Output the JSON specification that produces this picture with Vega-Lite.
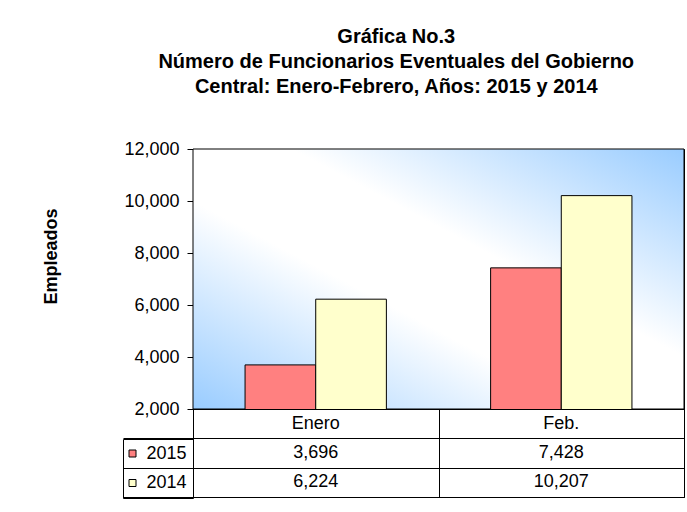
{
  "$schema": "https://vega.github.io/schema/vega-lite/v6.json",
  "datasets": {
    "emp": [
      {"month": "Enero", "year": "2015", "value": 3696},
      {"month": "Enero", "year": "2014", "value": 6224},
      {"month": "Feb.", "year": "2015", "value": 7428},
      {"month": "Feb.", "year": "2014", "value": 10207}
    ]
  },
  "padding": {"left": 41, "top": 26, "right": 4, "bottom": 10},
  "background": "white",
  "title": {
    "text": ["Gráfica No.3", "Número de Funcionarios Eventuales del Gobierno", "Central: Enero-Febrero, Años: 2015 y 2014"],
    "fontSize": 20,
    "fontWeight": "bold",
    "lineHeight": 25,
    "anchor": "middle",
    "dx": 33,
    "offset": 43,
    "color": "black"
  },
  "config": {
    "font": "Liberation Sans"
  },
  "spacing": 0,
  "bounds": "flush",
  "resolve": {
    "scale": {"x": "independent", "y": "independent"},
    "legend": {"fill": "independent"}
  },
  "vconcat": [
    {
      "width": 491,
      "height": 260,
      "view": {"stroke": "black", "strokeWidth": 1},
      "layer": [
        {
          "data": {"values": [{}]},
          "mark": {
            "type": "rect",
            "stroke": "black",
            "strokeWidth": 1,
            "color": {
              "gradient": "linear",
              "x1": 0, "y1": 1, "x2": 1, "y2": 0,
              "stops": [
                {"offset": 0, "color": "#99CCFF"},
                {"offset": 0.4, "color": "#FFFFFF"},
                {"offset": 0.6, "color": "#FFFFFF"},
                {"offset": 1, "color": "#99CCFF"}
              ]
            }
          },
          "encoding": {}
        },
        {
          "data": {"name": "emp"},
          "mark": {"type": "bar", "stroke": "black", "strokeWidth": 1, "clip": true},
          "encoding": {
            "x": {
              "field": "month", "type": "nominal", "sort": ["Enero", "Feb."],
              "scale": {"paddingInner": 0.4245, "paddingOuter": 0.212},
              "axis": null
            },
            "xOffset": {"field": "year", "type": "nominal", "sort": ["2015", "2014"], "scale": {"paddingInner": 0, "paddingOuter": 0}},
            "y": {
              "field": "value", "type": "quantitative",
              "scale": {"domain": [2000, 12000], "zero": false, "nice": false},
              "axis": {
                "values": [2000, 4000, 6000, 8000, 10000, 12000],
                "format": ",.0f",
                "title": "Empleados",
                "grid": false,
                "labelFontSize": 18,
                "labelColor": "black",
                "labelPadding": 8,
                "tickColor": "black",
                "tickSize": 6,
                "domainColor": "black",
                "titleFontSize": 18,
                "titleFontWeight": "bold",
                "titleColor": "black",
                "titleX": -142,
                "titleY": 107,
                "titleAngle": -90,
                "titleAlign": "center",
                "titleBaseline": "middle"
              }
            },
            "fill": {
              "field": "year", "type": "nominal",
              "scale": {"domain": ["2015", "2014"], "range": ["#FF8080", "#FFFFCC"]},
              "legend": {
                "title": null,
                "orient": "none",
                "legendX": -70,
                "legendY": 290,
                "direction": "vertical",
                "symbolType": "square",
                "symbolSize": 49,
                "symbolStrokeColor": "black",
                "symbolStrokeWidth": 1,
                "symbolOpacity": 1,
                "symbolOffset": -5,
                "labelFontSize": 18,
                "labelColor": "black",
                "labelOffset": 5,
                "rowPadding": 11.5,
                "padding": 5.5,
                "strokeColor": "black"
              }
            }
          }
        }
      ]
    },
    {
      "width": 491,
      "height": 88,
      "data": {"name": "emp"},
      "view": {"stroke": "black", "strokeWidth": 1},
      "encoding": {
        "x": {
          "field": "month", "type": "nominal", "sort": ["Enero", "Feb."],
          "scale": {"paddingInner": 0, "paddingOuter": 0},
          "axis": {"labels": false, "ticks": false, "domain": false, "grid": true, "tickBand": "extent", "gridColor": "black", "gridOpacity": 1, "title": null}
        }
      },
      "layer": [
        {
          "mark": {"type": "text", "fontSize": 18, "color": "black"},
          "encoding": {
            "y": {
              "field": "year", "type": "nominal",
              "scale": {"domain": ["hdr", "2015", "2014"], "paddingInner": 0, "paddingOuter": 0},
              "axis": {"values": ["2015", "2014"], "tickBand": "extent", "labels": false, "domain": false, "ticks": true, "tickSize": 70, "tickColor": "black", "grid": true, "gridColor": "black", "gridOpacity": 1, "title": null}
            },
            "text": {"field": "value", "type": "quantitative", "format": ",.0f"}
          }
        },
        {
          "transform": [{"aggregate": [{"op": "count", "as": "n"}], "groupby": ["month"]}],
          "mark": {"type": "text", "fontSize": 18, "color": "black"},
          "encoding": {
            "y": {"datum": "hdr"},
            "text": {"field": "month", "type": "nominal"}
          }
        }
      ]
    }
  ]
}
